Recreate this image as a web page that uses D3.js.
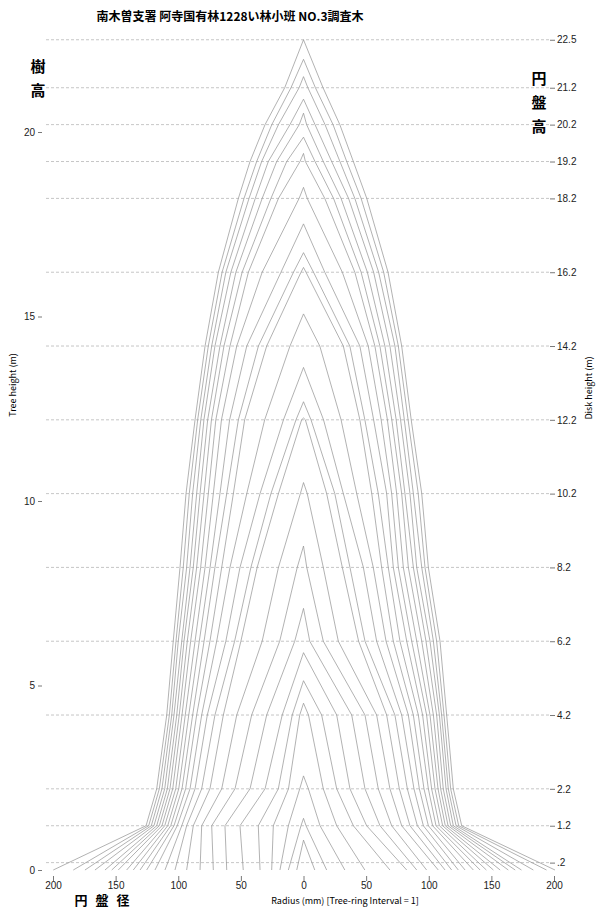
<!DOCTYPE html>
<html>
<head>
<meta charset="utf-8">
<script src="https://cdn.jsdelivr.net/npm/d3@7.9.0/dist/d3.min.js"></script>
<style>
  body { margin: 0; background: #fff; }
  svg { display: block; font-family: "Noto Sans CJK JP", "DejaVu Sans", sans-serif; }
  .axis path.domain { display: none; }
  .axis line { stroke: #555; stroke-width: 0.8; }
  .axis text { fill: #222; font-size: 10px; }
</style>
</head>
<body>
<svg id="chart" width="596" height="910"></svg>
<script>
// --- DATA ---
const title = "南木曽支署 阿寺国有林1228い林小班 NO.3調査木";

// heights of each contour's tip (m), outermost first
const peaks = [22.5, 21.97, 21.5, 20.89, 20.51, 19.86, 19.42, 18.5, 17.51, 16.73, 16.33, 15.07,
  13.62, 12.69, 12.25, 10.5, 8.78, 7.09, 5.89, 5.13, 4.52, 2.55, 1.4, 0.81];

// heights of the rows below (m)
const rowHeights = [0, 1.2, 2.2, 4.2, 6.2, 8.2, 10.2, 12.2, 14.2, 16.2, 18.2, 19.2, 20.2, 21.2];

// radius (mm) on the left side, one list per row, outermost contour first
const leftRadius = [
  [199.8, 183.8, 174.5, 166.5, 158.5, 153.1, 147.9, 141.2, 135.9, 130.5, 125.2, 118.6, 110.6, 102.6, 93.3, 82.6, 72, 61.3, 48.1, 34.7, 25.4, 18.8, 12.1, 5.4],
  [125.7, 123.6, 121.5, 119.4, 117.2, 115.1, 113, 110.8, 108.4, 106, 103.4, 100.8, 97.2, 93.3, 88, 81.3, 73.3, 62.7, 50.7, 36.1, 24.1, 12.1, 2],
  [117.2, 115.1, 113, 110.8, 108.7, 106.6, 104.4, 102, 99.6, 97, 94.1, 90.6, 86.6, 81.3, 74.7, 65.3, 54.7, 42.7, 30.7, 20.1, 12, 3],
  [109.2, 107.1, 105.2, 103.4, 101.2, 99.2, 97, 94.4, 91.6, 88.5, 85.3, 81.3, 76.8, 70.7, 64, 53.3, 41.4, 29.4, 17, 9, 3],
  [104, 101.8, 100, 97.2, 95.4, 92.8, 90.1, 86.6, 83.2, 79.4, 74.7, 69.3, 62, 55, 50, 33, 19, 7],
  [98.6, 96, 93.3, 90.6, 88, 85.3, 82.1, 78.6, 74.6, 70.7, 65.3, 58.7, 50.7, 42, 37, 20, 5],
  [93.8, 91.2, 88.5, 85.3, 82.6, 79.4, 76, 72, 66.7, 61.3, 56, 45.3, 34.7, 26, 20, 2.5],
  [86.6, 84.5, 82, 79.5, 76.5, 73.5, 70, 65.5, 59, 52, 47, 31, 16, 6, 1.5],
  [78.6, 76, 73.3, 70.7, 66.7, 63.5, 58.7, 53.3, 45.3, 36, 29.4, 10.8],
  [68, 65, 62, 58, 54, 49, 44, 33, 18, 8, 2],
  [52, 47.5, 43.5, 38.5, 33, 26, 20, 3.5],
  [42.7, 37.4, 33.4, 28.1, 21.4, 13.4, 2.8],
  [30.7, 25.3, 20, 10.8, 3.4],
  [15, 10, 3.5]
];

// radius (mm) on the right side
const rightRadius = [
  [200.8, 194, 183.5, 174, 169, 163.5, 157, 151.6, 146, 141, 135.6, 129, 123.6, 118.3, 113, 107.6, 98.3, 90.4, 82.4, 69, 49, 33, 18.5, 9],
  [126.3, 123.9, 121.8, 119.6, 117.5, 115.4, 113.2, 111.1, 108.5, 105.8, 103.1, 99.7, 95.7, 90.9, 85, 78.4, 70.4, 61.1, 50.4, 39.8, 26.5, 13.2, 2],
  [119.6, 117.5, 115.6, 113.8, 111.6, 109.5, 107.4, 105, 102.3, 99.7, 96.2, 92.5, 88.2, 82.9, 76.5, 69, 59.7, 49.1, 37.1, 26.5, 15.8, 3.9],
  [114.3, 112.2, 110.3, 108.5, 106.3, 103.7, 101, 98.3, 95.1, 91.7, 87.7, 83.7, 78.4, 73, 66.4, 58.4, 49.1, 38.5, 26.5, 14.5, 4],
  [109, 106.3, 103.7, 101, 97.8, 94.4, 90.4, 86.4, 82.4, 77, 71.7, 65.9, 58.4, 49.1, 44, 27.8, 15.8, 5],
  [99.7, 97, 94.4, 90.4, 87.7, 83.7, 79.7, 75.7, 71.7, 67.7, 62.4, 55.7, 47.8, 37.1, 31, 15.8, 2.6],
  [94.4, 91.6, 87.7, 85, 81, 78.4, 74.4, 70.4, 66.4, 59.7, 54.5, 42.5, 31.8, 25, 18.5, 3],
  [86, 83.5, 80.5, 77.5, 74, 70.5, 67, 62, 56, 49, 45, 30, 16, 6, 1.5],
  [78.4, 75.7, 73, 69, 65, 61, 57, 51.7, 45, 37, 31.8, 13],
  [67.5, 64, 60, 56, 51, 46, 41, 31, 17, 8, 2],
  [50.5, 46, 41, 36, 30, 24, 17, 3],
  [39.8, 34.5, 29.1, 22.5, 15.8, 9.2, 1.5],
  [29, 23.6, 17.2, 9.2, 2.5],
  [15.6, 9.5, 3.5]
];

// axis ticks
const treeHeightTicks = [0, 5, 10, 15, 20];
const diskTicks = [0.2, 1.2, 2.2, 4.2, 6.2, 8.2, 10.2, 12.2, 14.2, 16.2, 18.2, 19.2, 20.2, 21.2, 22.5];
const diskTickLabels = [".2", "1.2", "2.2", "4.2", "6.2", "8.2", "10.2", "12.2", "14.2", "16.2", "18.2", "19.2", "20.2", "21.2", "22.5"];
const radiusTicks = [-200, -150, -100, -50, 0, 50, 100, 150, 200];

// --- SCALES ---
const svg = d3.select('#chart');
const x = d3.scaleLinear().domain([-200, 200]).range([53, 554]);
const y = d3.scaleLinear().domain([0, 20]).range([870, 132]);

// build one outline per contour: up the left side, over the tip, down the right
function contourPoints(i) {
    const pts = [];
    rowHeights.forEach((h, r) => {
        if (leftRadius[r].length > i) pts.push([-leftRadius[r][i], h]);
    });
    pts.push([0, peaks[i]]);
    for (let r = rowHeights.length - 1; r >= 0; r--) {
        if (rightRadius[r].length > i) pts.push([rightRadius[r][i], rowHeights[r]]);
    }
    return pts;
}

// --- GRID ---
svg.append('g')
    .selectAll('line')
    .data(diskTicks)
    .join('line')
    .attr('x1', 46).attr('x2', 550)
    .attr('y1', d => y(d)).attr('y2', d => y(d))
    .attr('stroke', '#b8b8b8')
    .attr('stroke-width', 0.8)
    .attr('stroke-dasharray', '3,2');

// --- CONTOURS ---
const line = d3.line().x(d => x(d[0])).y(d => y(d[1]));
svg.append('g')
    .selectAll('path')
    .data(peaks.map((p, i) => contourPoints(i)))
    .join('path')
    .attr('d', line)
    .attr('fill', 'none')
    .attr('stroke', '#909090')
    .attr('stroke-width', 0.7);

// --- AXES ---
svg.append('g')
    .attr('class', 'axis')
    .attr('transform', 'translate(42,0)')
    .call(d3.axisLeft(y).tickValues(treeHeightTicks).tickSize(4).tickPadding(3));

svg.append('g')
    .attr('class', 'axis')
    .attr('transform', 'translate(550,0)')
    .call(d3.axisRight(y).tickValues(diskTicks).tickSize(5).tickPadding(2)
        .tickFormat((d, i) => diskTickLabels[i]));

svg.append('g')
    .attr('class', 'axis')
    .attr('transform', 'translate(0,876)')
    .call(d3.axisBottom(x).tickValues(radiusTicks).tickSize(5).tickPadding(1)
        .tickFormat(d => Math.abs(d)));

// --- TEXT ---
svg.append('text')
    .attr('x', 230).attr('y', 21)
    .attr('text-anchor', 'middle')
    .attr('font-size', 12).attr('font-weight', 'bold')
    .text(title);

svg.append('text')
    .attr('transform', 'translate(16,385) rotate(-90)')
    .attr('text-anchor', 'middle')
    .attr('font-size', 9)
    .text('Tree height (m)');

svg.append('text')
    .attr('transform', 'translate(592,388) rotate(-90)')
    .attr('text-anchor', 'middle')
    .attr('font-size', 9)
    .text('Disk height (m)');

svg.append('text')
    .attr('x', 345).attr('y', 904)
    .attr('text-anchor', 'middle')
    .attr('font-size', 9)
    .text('Radius (mm) [Tree-ring Interval = 1]');

const bigLabels = [
    { t: '樹', x: 38, y: 72 }, { t: '高', x: 38, y: 96 },
    { t: '円', x: 539, y: 84 }, { t: '盤', x: 539, y: 108 }, { t: '高', x: 539, y: 132 }
];
svg.append('g')
    .selectAll('text')
    .data(bigLabels)
    .join('text')
    .attr('x', d => d.x).attr('y', d => d.y)
    .attr('text-anchor', 'middle')
    .attr('font-size', 15).attr('font-weight', 'bold')
    .text(d => d.t);

svg.append('text')
    .attr('x', 106).attr('y', 905)
    .attr('text-anchor', 'middle')
    .attr('font-size', 13).attr('font-weight', 'bold')
    .attr('letter-spacing', 8)
    .text('円盤径');
</script>
</body>
</html>
